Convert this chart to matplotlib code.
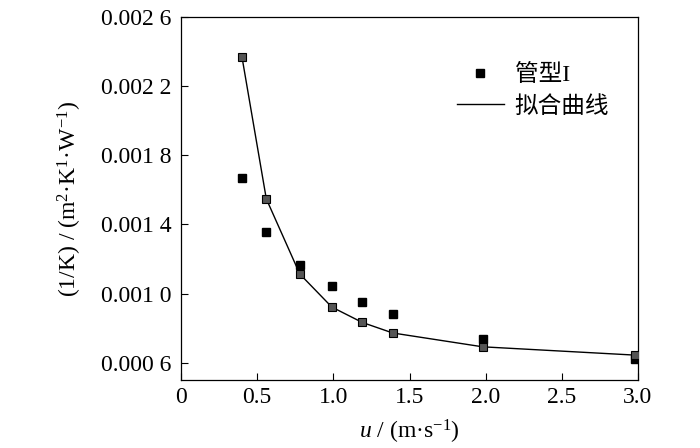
import matplotlib
matplotlib.use("Agg")
import matplotlib.pyplot as plt
from matplotlib.ticker import FixedLocator, FixedFormatter

plt.rcParams['font.family'] = ['Liberation Serif', 'Noto Sans CJK SC', 'DejaVu Sans']
plt.rcParams['mathtext.fontset'] = 'custom'
plt.rcParams['mathtext.rm'] = 'Liberation Serif'
plt.rcParams['mathtext.it'] = 'Liberation Serif:italic'

# data
u = [0.40, 0.56, 0.78, 0.99, 1.19, 1.39, 1.98, 2.98]
inv_k_measured = [0.001668, 0.001355, 0.001163, 0.001041, 0.000951, 0.000881, 0.000737, 0.000619]
inv_k_fit = [0.002370, 0.001548, 0.001113, 0.000922, 0.000833, 0.000772, 0.000692, 0.000644]

x_ticks = [0, 0.5, 1.0, 1.5, 2.0, 2.5, 3.0]
x_tick_labels = ["0", "0.5", "1.0", "1.5", "2.0", "2.5", "3.0"]
y_ticks = [0.0006, 0.0010, 0.0014, 0.0018, 0.0022, 0.0026]
y_tick_labels = ["0.000 6", "0.001 0", "0.001 4", "0.001 8", "0.002 2", "0.002 6"]

FS = 17

fig = plt.figure(figsize=(7.0, 4.48), dpi=100)
ax = fig.add_axes([181/700, 1-380/448, (638-181)/700, (380-17)/448])

ax.plot(u, inv_k_measured, linestyle='none', marker='s', markersize=5.5,
        color='black', label='管型I', zorder=3)
ax.plot(u, inv_k_fit, color='black', linewidth=1.0, marker='s', markersize=6,
        markerfacecolor='#555555', markeredgecolor='black', markeredgewidth=0.8,
        zorder=4)
# legend handle for fitted curve
ax.plot([], [], color='black', linewidth=1.0, label='拟合曲线')

ax.set_xlim(0, 3.0)
ax.set_ylim(0.0005, 0.0026)
ax.xaxis.set_major_locator(FixedLocator(x_ticks))
ax.xaxis.set_major_formatter(FixedFormatter(x_tick_labels))
ax.yaxis.set_major_locator(FixedLocator(y_ticks))
ax.yaxis.set_major_formatter(FixedFormatter(y_tick_labels))
ax.tick_params(axis='y', direction='in', length=5, width=0.8, labelsize=FS, pad=7)
ax.tick_params(axis='x', direction='in', length=5, width=0.8, labelsize=FS, pad=5)
for s in ax.spines.values():
    s.set_linewidth(0.9)

ax.set_xlabel('$u$ / (m·s$^{-1}$)', fontsize=FS, labelpad=7)
ax.set_ylabel('(1/K) / (m$^{2}$·K$^{1}$·W$^{-1}$)', fontsize=FS)
ax.yaxis.set_label_coords(-0.213, 0.5)

h, l = ax.get_legend_handles_labels()
fig.legend(h, l, loc='upper left', frameon=False, fontsize=FS,
           bbox_to_anchor=(445/700, 1-52/448), handlelength=2.0,
           handletextpad=0.45, labelspacing=0.42, borderpad=0.0)

fig.savefig('out.png', dpi=100)
